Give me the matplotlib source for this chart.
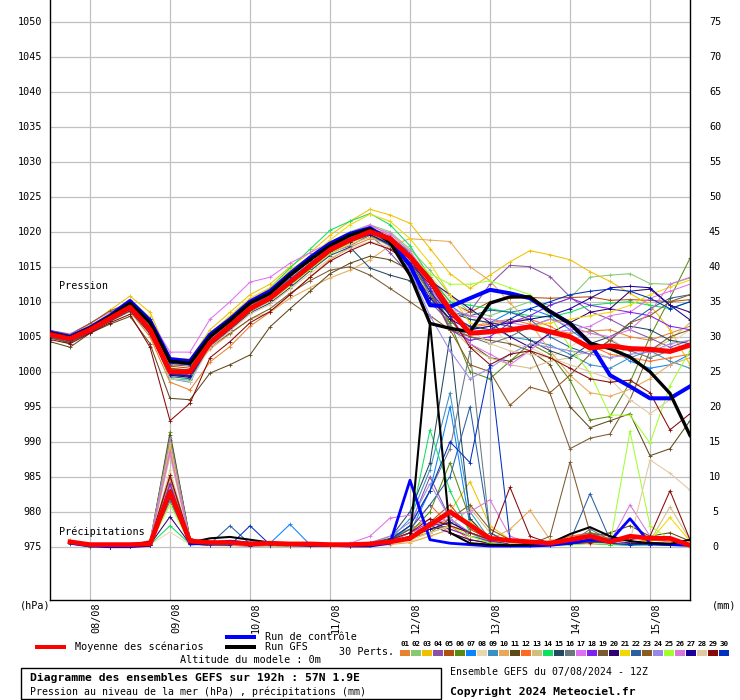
import matplotlib
matplotlib.use('Agg')
import matplotlib.pyplot as plt
from matplotlib.patches import Rectangle
from matplotlib.lines import Line2D

W, H = 740, 700
FONT = 'DejaVu Sans Mono'

# ---------------- data ----------------
hours_p = list(range(0, 193, 6))      # pressure: +0h .. +192h
hours_r = list(range(6, 193, 6))      # precipitation: +6h .. +192h
date_labels = ['08/08', '09/08', '10/08', '11/08', '12/08', '13/08', '14/08', '15/08']
date_hours = [12, 36, 60, 84, 108, 132, 156, 180]
left_ticks = list(range(975, 1051, 5))
right_ticks = list(range(0, 76, 5))

member_colors = ['#E8822E', '#88C870', '#F0C000', '#8A50A8', '#B05010', '#5A8A10',
                 '#0A84FF', '#E8D8B0', '#3A90C0', '#E8A858', '#5E4A18', '#FF6A20',
                 '#D0C080', '#10E060', '#244860', '#687880', '#E070F0', '#8020F0',
                 '#7A5A30', '#300070', '#F0D800', '#2A60A0', '#8A5A20', '#9A88E8',
                 '#A0FF30', '#D878D8', '#1A0098', '#E0C8A0', '#880808', '#0030C0']

mean_p = [1005.3, 1004.7, 1006.0, 1007.6, 1009.2, 1006.0, 1000.0, 1000.0, 1004.1, 1006.5, 1009.0,
          1010.5, 1012.8, 1015.1, 1017.4, 1018.8, 1020.0, 1019.0, 1016.4, 1013.1, 1008.8, 1005.5,
          1005.7, 1006.0, 1006.4, 1005.7, 1005.0, 1003.4, 1003.7, 1003.3, 1003.2, 1002.9, 1003.8]
ctrl_p = [1005.6, 1005.0, 1006.3, 1008.0, 1010.1, 1007.3, 1001.8, 1001.5, 1005.3, 1007.5, 1010.0,
          1011.5, 1014.0, 1016.3, 1018.3, 1019.7, 1020.5, 1018.8, 1015.2, 1009.5, 1009.3, 1010.5,
          1011.7, 1011.2, 1010.5, 1008.6, 1006.9, 1004.1, 999.5, 997.9, 996.2, 996.2, 997.9]
gfs_p = [1005.5, 1004.9, 1006.2, 1007.9, 1009.8, 1007.0, 1001.5, 1001.2, 1005.0, 1007.3, 1009.8,
         1011.2, 1013.8, 1016.0, 1018.0, 1019.5, 1020.4, 1018.5, 1013.8, 1006.9, 1006.2, 1005.7,
         1009.8, 1010.7, 1010.7, 1008.6, 1006.9, 1004.1, 1003.3, 1002.1, 1000.0, 996.9, 990.9]

p01 = [1005.0, 1004.2, 1005.8, 1007.2, 1008.6, 1005.0, 998.5, 997.4, 1001.4, 1003.6, 1006.5,
       1008.5, 1011.0, 1013.5, 1016.0, 1017.8, 1019.0, 1018.5, 1016.5, 1012.0, 1008.0, 1006.5,
       1007.0, 1007.5, 1006.8, 1006.0, 1005.5, 1005.8, 1006.0, 1005.0, 1004.5, 1005.5, 1006.5]
p02 = [1005.4, 1004.8, 1006.2, 1007.8, 1009.5, 1006.5, 1000.5, 1000.0, 1004.5, 1007.0, 1009.8,
       1011.5, 1014.0, 1016.5, 1018.5, 1020.0, 1021.0, 1020.0, 1017.5, 1014.5, 1011.0, 1008.5,
       1008.0, 1009.0, 1010.0, 1009.5, 1010.5, 1013.5, 1013.8, 1014.0, 1012.6, 1012.5, 1013.4]
p03 = [1005.8, 1005.2, 1006.8, 1008.8, 1010.8, 1008.5, 1002.0, 1001.8, 1006.0, 1008.5, 1011.0,
       1012.5, 1015.0, 1017.0, 1019.5, 1021.5, 1023.2, 1022.4, 1021.2, 1017.6, 1014.0, 1011.9,
       1013.8, 1015.7, 1017.3, 1016.7, 1016.0, 1014.3, 1012.9, 1011.2, 1009.5, 1006.0, 1001.0]
p04 = [1005.1, 1004.5, 1005.9, 1007.4, 1009.0, 1005.5, 999.5, 999.3, 1003.8, 1006.2, 1008.8,
       1010.5, 1012.5, 1014.8, 1017.0, 1018.0, 1019.5, 1017.0, 1013.8, 1010.0, 1007.0, 1008.6,
       1012.5, 1015.2, 1015.0, 1013.6, 1010.7, 1008.6, 1007.5, 1006.0, 1004.8, 1003.5, 1004.5]
p05 = [1005.6, 1005.0, 1006.4, 1008.0, 1009.6, 1006.8, 1000.8, 1000.5, 1004.8, 1007.0, 1009.5,
       1011.0, 1013.5, 1015.8, 1018.0, 1019.5, 1020.5, 1019.5, 1017.0, 1013.5, 1010.0, 1008.5,
       1010.0, 1010.5, 1010.6, 1010.5, 1010.6, 1010.7, 1010.2, 1010.3, 1010.2, 1010.0, 1010.3]
p06 = [1005.2, 1004.6, 1006.0, 1007.5, 1009.0, 1005.8, 999.8, 999.6, 1003.9, 1006.3, 1008.9,
       1010.3, 1012.5, 1014.9, 1017.2, 1018.5, 1019.5, 1018.0, 1015.0, 1011.5, 1007.0, 1000.0,
       999.0, 1001.5, 1004.0, 1002.5, 998.8, 993.1, 993.6, 998.5, 1005.0, 1010.5, 1016.2]
p07 = [1005.3, 1004.7, 1006.1, 1007.7, 1009.4, 1006.2, 999.0, 998.5, 1003.8, 1006.8, 1009.3,
       1011.0, 1013.3, 1015.5, 1017.8, 1019.2, 1020.3, 1019.3, 1017.0, 1013.0, 1009.5, 1007.5,
       1007.0, 1008.5, 1009.0, 1008.0, 1006.0, 1004.0, 1003.5, 1001.5, 1000.5, 1001.0, 1002.5]
p08 = [1005.7, 1005.1, 1006.5, 1008.1, 1009.7, 1006.9, 1000.6, 1000.2, 1004.4, 1006.6, 1009.1,
       1010.6, 1012.9, 1015.3, 1017.6, 1019.0, 1020.2, 1019.5, 1017.3, 1013.8, 1010.5, 1008.0,
       1006.5, 1004.0, 1003.5, 1002.0, 1003.5, 1005.5, 1004.8, 1003.0, 1002.0, 1004.0, 1006.0]
p09 = [1005.0, 1004.4, 1005.7, 1007.3, 1008.9, 1005.6, 999.6, 999.2, 1003.5, 1006.0, 1008.6,
       1010.2, 1012.6, 1015.0, 1017.3, 1018.7, 1019.8, 1018.3, 1015.8, 1012.0, 1008.5, 1006.0,
       1006.5, 1005.0, 1004.5, 1003.8, 1002.5, 1001.0, 1000.5, 1002.0, 1003.0, 1001.5, 1000.5]
p10 = [1005.5, 1004.9, 1006.3, 1007.9, 1009.5, 1006.4, 1000.3, 999.9, 1003.2, 1005.4, 1007.5,
       1008.5, 1010.5, 1012.0, 1013.4, 1014.5, 1016.0, 1018.0, 1019.0, 1018.8, 1018.6, 1015.0,
       1013.0, 1009.8, 1007.0, 1003.0, 999.5, 997.0, 996.5, 997.5, 999.0, 1001.0, 1002.0]
p11 = [1004.3, 1003.5, 1005.5, 1006.8, 1007.9, 1004.0, 996.2, 996.0, 999.8, 1001.0, 1002.4,
       1006.4, 1009.0, 1011.5, 1014.0, 1015.5, 1016.5, 1016.0, 1014.5, 1011.0, 1007.5, 1004.0,
       1002.0, 1001.5, 1003.0, 1001.0, 995.0, 992.0, 993.0, 994.0, 988.0, 989.0, 993.0]
p12 = [1005.4, 1004.8, 1006.1, 1007.6, 1009.1, 1006.0, 1000.2, 999.8, 1004.2, 1006.6, 1009.1,
       1010.7, 1013.0, 1015.3, 1017.6, 1019.0, 1020.1, 1019.2, 1016.5, 1013.0, 1008.0, 1006.3,
       1006.8, 1007.2, 1007.5, 1006.5, 1005.0, 1003.8, 1002.5, 1002.0, 1001.5, 1002.0, 1002.5]
p13 = [1005.6, 1005.0, 1006.4, 1007.8, 1009.3, 1006.3, 1000.4, 1000.3, 1004.0, 1006.4, 1008.7,
       1010.2, 1012.4, 1014.6, 1016.8, 1018.2, 1019.2, 1018.0, 1015.0, 1011.0, 1006.5, 1003.5,
       1002.0, 1001.0, 1000.5, 1001.5, 1002.0, 1003.0, 1002.0, 1003.5, 1003.0, 1004.5, 1007.0]
p14 = [1005.2, 1004.6, 1006.0, 1007.7, 1009.3, 1005.9, 999.0, 998.8, 1004.5, 1007.3, 1010.0,
       1012.0, 1014.8, 1017.5, 1020.2, 1021.5, 1022.6, 1021.0, 1018.0, 1013.5, 1010.0, 1009.5,
       1009.0, 1008.5, 1008.0, 1007.8, 1008.5, 1009.5, 1009.8, 1010.0, 1009.5, 1009.0, 1010.0]
p15 = [1004.8, 1004.2, 1005.6, 1007.2, 1008.7, 1005.4, 999.7, 999.5, 1003.6, 1006.0, 1008.4,
       1009.8, 1012.0, 1014.4, 1016.6, 1017.8, 1014.8, 1013.8, 1013.0, 1010.5, 1008.5, 1007.5,
       1007.0, 1006.5, 1004.5, 1003.0, 1002.0, 1004.0, 1005.0, 1006.5, 1006.0, 1004.5, 1004.0]
p16 = [1005.3, 1004.7, 1006.0, 1007.5, 1009.0, 1006.1, 1000.1, 1000.0, 1004.0, 1006.4, 1008.9,
       1010.4, 1012.7, 1015.0, 1017.3, 1018.7, 1019.9, 1019.0, 1016.0, 1011.0, 1006.5, 1005.0,
       1004.0, 1005.0, 1006.5, 1007.5, 1007.0, 1006.0, 1004.5, 1003.0, 1002.0, 1003.0, 1004.0]
p17 = [1005.9, 1005.4, 1006.9, 1008.5, 1010.2, 1007.5, 1002.8, 1002.8, 1007.5, 1010.0, 1012.8,
       1013.5, 1015.5, 1017.0, 1018.5, 1019.8, 1021.0, 1019.5, 1016.0, 1012.0, 1008.0, 1004.0,
       1002.5, 1001.0, 1003.0, 1005.5, 1006.0, 1006.5, 1008.0, 1008.5, 1010.5, 1011.5, 1012.5]
p18 = [1005.4, 1004.8, 1006.2, 1007.8, 1009.4, 1006.3, 1000.1, 999.5, 1004.2, 1006.6, 1009.1,
       1010.6, 1012.9, 1015.2, 1017.5, 1018.9, 1020.1, 1018.8, 1016.0, 1012.0, 1006.0, 1004.5,
       1005.0, 1007.0, 1008.0, 1009.5, 1010.5, 1009.5, 1009.0, 1008.5, 1008.0, 1006.5, 1006.0]
p19 = [1005.0, 1004.0, 1006.5, 1008.2, 1009.5, 1006.6, 1000.5, 1000.2, 1003.5, 1005.5, 1007.5,
       1009.0, 1011.2, 1013.0, 1014.5, 1015.0, 1013.8, 1011.9, 1010.0, 1008.0, 1006.0, 1005.0,
       1004.5, 1004.0, 1003.0, 996.9, 989.0, 990.5, 991.1, 996.0, 1003.0, 1005.0, 1006.0]
p20 = [1005.2, 1004.6, 1006.0, 1007.5, 1009.0, 1005.8, 999.5, 999.2, 1003.7, 1006.2, 1008.8,
       1010.2, 1012.6, 1014.9, 1017.2, 1018.6, 1019.8, 1018.8, 1016.0, 1013.0, 1011.0, 1009.0,
       1007.0, 1005.0, 1003.5, 1005.5, 1007.0, 1008.5, 1009.0, 1011.5, 1011.8, 1009.5, 1008.5]
p21 = [1005.7, 1005.1, 1006.6, 1008.3, 1010.3, 1007.8, 1001.5, 1001.2, 1005.5, 1008.0, 1010.5,
       1012.0, 1014.5, 1016.5, 1018.8, 1021.0, 1022.5, 1021.5, 1019.0, 1015.5, 1011.0, 1007.0,
       1005.5, 1006.0, 1006.5, 1007.0, 1007.5, 1008.0, 1008.5, 1009.5, 1011.0, 1012.1, 1013.1]
p22 = [1005.0, 1004.4, 1005.8, 1007.4, 1009.0, 1005.7, 999.3, 999.0, 1003.6, 1006.1, 1008.7,
       1010.1, 1012.4, 1014.7, 1017.0, 1018.5, 1019.7, 1018.0, 1014.5, 1010.0, 1008.5, 1008.0,
       1008.8, 1008.5, 1007.5, 1005.0, 1003.5, 1002.5, 1004.5, 1007.0, 1009.0, 1010.5, 1011.0]
p23 = [1005.9, 1005.3, 1006.9, 1008.7, 1009.8, 1007.2, 1001.0, 1000.8, 1004.6, 1006.8, 1009.2,
       1010.8, 1013.0, 1015.5, 1017.5, 1019.0, 1020.0, 1018.5, 1015.5, 1011.5, 1006.0, 1001.0,
       1000.0, 995.2, 997.8, 997.0, 999.5, 1002.5, 1004.5, 1007.0, 1008.0, 1010.0, 1011.0]
p24 = [1005.5, 1004.9, 1006.3, 1008.0, 1009.7, 1006.6, 1000.2, 999.8, 1004.6, 1007.2, 1009.8,
       1011.3, 1013.6, 1015.9, 1018.2, 1019.6, 1020.7, 1019.0, 1014.5, 1008.0, 1003.0, 999.0,
       1000.5, 1002.5, 1004.0, 1003.5, 1003.0, 1002.5, 1002.0, 1002.5, 1002.8, 1004.0, 1004.5]
p25 = [1005.4, 1004.8, 1006.1, 1007.7, 1009.2, 1006.1, 1000.0, 999.7, 1004.0, 1006.3, 1008.7,
       1010.1, 1012.3, 1014.6, 1016.9, 1018.4, 1019.6, 1018.8, 1016.5, 1014.0, 1012.5, 1012.5,
       1013.0, 1012.0, 1011.0, 1008.0, 1003.5, 999.8, 993.8, 993.8, 989.8, 998.0, 1003.0]
p26 = [1005.6, 1005.0, 1006.5, 1008.1, 1009.9, 1007.0, 1001.2, 1000.9, 1005.0, 1007.6, 1010.3,
       1011.8, 1014.2, 1016.3, 1018.4, 1019.7, 1020.8, 1019.8, 1017.2, 1013.0, 1009.0, 1008.0,
       1007.5, 1007.0, 1006.5, 1007.5, 1006.5, 1005.5, 1005.0, 1006.0, 1008.5, 1012.5, 1013.5]
p27 = [1005.1, 1004.5, 1005.9, 1007.5, 1009.1, 1005.9, 999.6, 999.4, 1003.8, 1006.3, 1008.9,
       1010.3, 1012.6, 1014.9, 1017.2, 1018.6, 1019.6, 1018.2, 1015.0, 1010.5, 1007.5, 1006.0,
       1006.5, 1007.0, 1007.5, 1008.0, 1009.0, 1010.5, 1012.0, 1012.2, 1012.0, 1009.5, 1007.4]
p28 = [1005.8, 1005.2, 1006.6, 1008.2, 1009.8, 1006.8, 999.0, 998.6, 1003.5, 1005.8, 1008.2,
       1009.6, 1011.8, 1014.0, 1016.2, 1017.6, 1018.6, 1017.8, 1016.0, 1013.0, 1009.5, 1006.0,
       1004.0, 1003.0, 1002.5, 1002.0, 1001.0, 1000.0, 999.0, 996.0, 994.0, 996.0, 998.0]
p29 = [1004.6, 1004.0, 1005.5, 1007.0, 1008.2, 1003.5, 993.0, 995.5, 1002.0, 1004.3, 1007.0,
       1008.6, 1011.0, 1013.5, 1015.8, 1017.3, 1018.5, 1017.5, 1015.5, 1012.5, 1008.0, 1003.5,
       1001.0, 1002.5, 1003.0, 1002.0, 1000.5, 999.0, 998.5, 998.8, 997.0, 991.7, 994.0]
p30 = [1005.3, 1004.7, 1006.2, 1007.9, 1009.7, 1007.5, 1001.2, 1001.0, 1005.0, 1007.2, 1009.8,
       1011.2, 1013.6, 1015.9, 1018.2, 1019.6, 1020.5, 1019.2, 1016.3, 1011.5, 1008.0, 1006.5,
       1006.0, 1007.5, 1009.0, 1010.0, 1011.0, 1011.5, 1011.8, 1011.5, 1010.5, 1009.0, 1010.0]

mean_r = [0.7, 0.3, 0.3, 0.3, 0.4, 7.8, 0.8, 0.6, 0.6, 0.4, 0.5, 0.4, 0.4, 0.3, 0.3, 0.4,
          0.7, 1.2, 3.1, 5.0, 3.1, 1.2, 0.9, 0.7, 0.5, 1.0, 1.5, 0.7, 1.5, 1.2, 1.2, 0.2]
ctrl_r = [0.5, 0.1, 0.0, 0.0, 0.2, 8.0, 0.4, 0.5, 0.8, 0.5, 0.6, 0.3, 0.2, 0.2, 0.1, 0.1,
          0.5, 9.5, 1.0, 0.5, 0.3, 0.1, 0.1, 0.1, 0.2, 0.5, 1.0, 0.8, 4.0, 0.5, 0.3, 0.2]
gfs_r = [0.8, 0.3, 0.1, 0.1, 0.2, 7.5, 0.6, 1.2, 1.4, 1.0, 0.6, 0.3, 0.2, 0.3, 0.1, 0.2,
         0.9, 1.0, 32.0, 2.0, 0.5, 0.3, 0.2, 0.3, 0.5, 1.8, 2.8, 1.5, 0.8, 0.5, 0.4, 1.0]

r01 = [0.5, 0.1, 0.1, 0.3, 0.8, 9.0, 0.6, 0.3, 0.4, 0.2, 0.3, 0.2, 0.1, 0.2, 0.3, 0.5,
       1.5, 2.5, 4.0, 2.0, 1.0, 0.5, 0.3, 0.2, 0.4, 1.5, 2.0, 1.0, 0.5, 0.3, 0.5, 0.3]
r02 = [0.6, 0.0, 0.1, 0.2, 0.5, 8.5, 0.5, 0.2, 0.3, 0.5, 0.2, 0.1, 0.2, 0.1, 0.2, 0.3,
       0.8, 1.5, 3.0, 4.0, 2.0, 1.0, 0.4, 0.3, 0.2, 0.5, 1.0, 0.8, 0.4, 0.5, 0.3, 0.2]
r03 = [0.7, 0.1, 0.0, 0.1, 0.4, 14.5, 0.8, 0.4, 0.2, 0.3, 0.5, 0.2, 0.1, 0.1, 0.2, 0.2,
       0.5, 1.0, 2.5, 5.0, 9.3, 3.0, 1.0, 0.5, 0.3, 0.4, 0.6, 0.5, 0.3, 0.5, 0.8, 0.3]
r04 = [0.5, 0.1, 0.1, 0.2, 0.3, 9.5, 0.4, 0.3, 0.2, 0.4, 0.3, 0.1, 0.2, 0.1, 0.1, 0.4,
       1.0, 3.0, 10.0, 4.0, 1.5, 0.8, 0.5, 0.3, 0.2, 0.3, 0.6, 0.4, 0.2, 0.3, 0.4, 0.2]
r05 = [0.6, 0.0, 0.1, 0.1, 0.4, 8.0, 0.5, 0.2, 0.3, 0.2, 0.1, 0.2, 0.1, 0.2, 0.1, 0.2,
       0.5, 1.2, 3.5, 6.0, 2.5, 1.0, 0.3, 0.2, 0.5, 1.2, 2.0, 1.5, 0.8, 0.4, 0.3, 0.2]
r06 = [0.6, 0.1, 0.1, 0.2, 0.5, 16.4, 1.0, 0.4, 0.3, 0.2, 0.2, 0.1, 0.1, 0.2, 0.2, 0.3,
       0.8, 2.0, 5.0, 12.0, 4.0, 1.0, 0.5, 0.2, 0.3, 0.4, 0.5, 0.3, 0.4, 0.6, 0.5, 0.3]
r07 = [0.5, 0.1, 0.0, 0.1, 0.3, 7.5, 0.5, 0.4, 0.5, 0.3, 0.5, 3.2, 0.3, 0.2, 0.1, 0.3,
       0.8, 2.0, 8.0, 20.0, 3.0, 0.8, 0.4, 0.3, 0.2, 0.5, 1.0, 0.6, 0.3, 0.4, 0.3, 0.2]
r08 = [0.4, 0.1, 0.0, 0.1, 0.3, 2.1, 0.3, 0.2, 0.1, 0.2, 0.1, 0.1, 0.2, 0.1, 0.1, 0.2,
       0.4, 0.8, 1.5, 2.5, 1.5, 0.6, 0.4, 0.3, 0.2, 0.3, 0.5, 0.4, 0.3, 0.2, 0.3, 0.2]
r09 = [0.6, 0.1, 0.1, 0.2, 0.4, 8.0, 0.6, 0.5, 0.4, 0.3, 0.3, 0.2, 0.1, 0.2, 0.3, 0.4,
       1.0, 4.0, 11.0, 22.0, 5.0, 1.0, 0.5, 0.3, 0.2, 0.8, 2.0, 1.0, 0.5, 0.3, 0.4, 0.2]
r10 = [0.7, 0.2, 0.1, 0.3, 0.9, 9.5, 0.8, 0.4, 0.3, 0.2, 0.2, 0.1, 0.1, 0.1, 0.2, 0.2,
       0.3, 0.6, 1.5, 2.5, 1.5, 1.0, 2.5, 5.2, 1.0, 0.5, 0.4, 0.3, 0.5, 0.6, 0.4, 0.3]
r11 = [0.8, 0.2, 0.1, 0.2, 0.6, 16.0, 1.2, 0.5, 0.4, 0.3, 0.4, 0.2, 0.3, 0.2, 0.2, 0.4,
       0.9, 2.0, 3.0, 3.5, 2.0, 1.0, 0.5, 0.4, 0.5, 1.0, 1.5, 2.0, 3.0, 1.5, 2.0, 0.8]
r12 = [0.9, 0.2, 0.1, 0.2, 0.7, 8.8, 0.7, 0.3, 0.2, 0.3, 0.2, 0.2, 0.1, 0.2, 0.1, 0.3,
       0.8, 2.5, 6.0, 3.0, 1.0, 0.5, 0.4, 0.3, 0.8, 1.5, 1.8, 1.2, 0.6, 1.0, 0.8, 0.3]
r13 = [0.5, 0.1, 0.0, 0.1, 0.3, 13.0, 0.6, 0.3, 0.2, 0.2, 0.1, 0.1, 0.2, 0.1, 0.2, 0.2,
       0.5, 1.0, 2.0, 3.0, 5.5, 2.0, 0.6, 0.4, 0.3, 0.4, 0.6, 0.5, 0.4, 0.8, 5.7, 1.0]
r14 = [0.4, 0.0, 0.1, 0.1, 0.3, 3.0, 0.4, 0.2, 0.3, 0.2, 0.3, 0.2, 0.1, 0.1, 0.2, 0.3,
       0.7, 3.0, 16.7, 8.0, 2.0, 0.5, 0.3, 0.2, 0.2, 0.3, 0.5, 0.3, 0.2, 0.3, 0.2, 0.1]
r15 = [0.6, 0.1, 0.1, 0.2, 0.4, 7.0, 0.5, 0.3, 0.4, 0.5, 0.3, 0.2, 0.2, 0.3, 0.4, 0.5,
       1.2, 5.0, 12.0, 30.0, 4.0, 1.0, 0.5, 0.3, 0.3, 0.6, 1.5, 0.8, 0.4, 0.3, 0.3, 0.2]
r16 = [0.5, 0.1, 0.1, 0.2, 0.4, 6.5, 0.5, 0.4, 0.3, 0.3, 0.2, 0.2, 0.1, 0.2, 0.3, 0.4,
       1.0, 3.0, 8.0, 14.0, 28.0, 2.0, 0.5, 0.3, 0.2, 0.5, 2.5, 1.0, 0.4, 0.3, 0.3, 0.2]
r17 = [0.6, 0.1, 0.1, 0.3, 0.8, 13.8, 0.9, 0.5, 0.4, 0.3, 0.4, 0.3, 0.2, 0.3, 0.5, 1.5,
       4.1, 4.5, 3.0, 4.0, 2.0, 1.0, 0.5, 0.3, 0.3, 0.5, 0.8, 0.6, 0.4, 0.5, 0.4, 0.3]
r18 = [0.5, 0.1, 0.0, 0.2, 0.4, 9.0, 0.6, 0.3, 0.2, 0.2, 0.3, 0.1, 0.2, 0.1, 0.2, 0.3,
       0.8, 2.0, 3.5, 2.5, 1.5, 0.8, 0.4, 0.3, 0.2, 0.4, 0.6, 0.5, 0.3, 0.4, 0.3, 0.2]
r19 = [0.7, 0.1, 0.1, 0.2, 0.6, 15.2, 1.0, 0.4, 0.3, 0.2, 0.3, 0.2, 0.2, 0.2, 0.3, 0.4,
       0.8, 1.5, 2.5, 3.0, 2.0, 1.0, 0.5, 0.3, 1.5, 12.1, 2.0, 0.8, 0.5, 0.6, 0.4, 0.3]
r20 = [0.5, 0.1, 0.1, 0.1, 0.3, 4.3, 0.4, 0.2, 0.2, 0.1, 0.2, 0.1, 0.1, 0.2, 0.1, 0.2,
       0.5, 1.5, 3.0, 2.0, 1.0, 0.5, 0.3, 0.2, 0.3, 0.5, 1.0, 0.8, 0.5, 0.4, 0.3, 0.2]
r21 = [0.8, 0.1, 0.1, 0.2, 0.7, 14.8, 0.8, 0.4, 0.3, 0.3, 0.2, 0.2, 0.1, 0.2, 0.2, 0.3,
       0.6, 1.5, 3.0, 5.0, 3.5, 1.5, 0.6, 0.4, 0.3, 0.5, 0.8, 0.6, 0.5, 0.8, 4.2, 0.8]
r22 = [0.5, 0.1, 0.0, 0.2, 0.4, 7.0, 0.5, 0.4, 3.0, 0.4, 0.3, 0.2, 0.2, 0.2, 0.3, 0.4,
       1.0, 2.5, 6.0, 10.0, 20.0, 2.0, 0.5, 0.3, 0.3, 0.8, 7.6, 1.0, 0.4, 0.3, 0.3, 0.2]
r23 = [0.6, 0.1, 0.1, 0.2, 0.5, 10.0, 0.7, 0.3, 0.2, 0.3, 0.2, 0.1, 0.2, 0.1, 0.2, 0.3,
       0.7, 1.2, 2.0, 4.0, 6.0, 2.5, 1.0, 0.5, 0.4, 0.6, 1.0, 0.8, 0.5, 0.4, 0.5, 0.3]
r24 = [0.6, 0.1, 0.1, 0.2, 0.5, 15.5, 0.9, 0.5, 0.4, 0.3, 0.3, 0.2, 0.2, 0.3, 0.4, 0.6,
       1.5, 3.5, 9.0, 4.0, 2.0, 1.0, 0.5, 0.3, 0.4, 0.6, 0.8, 0.5, 0.4, 0.3, 0.4, 0.3]
r25 = [0.5, 0.1, 0.1, 0.1, 0.3, 6.0, 0.5, 0.3, 0.2, 0.2, 0.2, 0.1, 0.1, 0.2, 0.2, 0.3,
       0.6, 1.0, 2.0, 3.0, 1.5, 0.5, 0.3, 0.2, 0.2, 0.3, 0.5, 0.4, 16.5, 3.0, 1.0, 0.5]
r26 = [0.6, 0.1, 0.1, 0.2, 0.5, 13.5, 0.8, 0.4, 0.3, 0.3, 0.2, 0.2, 0.1, 0.2, 0.3, 0.4,
       0.8, 2.0, 3.0, 4.5, 5.0, 6.7, 1.5, 0.5, 0.4, 0.5, 0.8, 0.6, 6.0, 1.5, 0.5, 0.3]
r27 = [0.5, 0.1, 0.0, 0.1, 0.3, 7.5, 0.5, 0.3, 0.2, 0.2, 0.3, 0.1, 0.2, 0.1, 0.2, 0.3,
       0.6, 1.5, 2.5, 3.5, 2.0, 1.0, 0.4, 0.3, 0.3, 0.5, 1.0, 0.8, 0.5, 0.4, 0.3, 0.2]
r28 = [0.6, 0.1, 0.1, 0.2, 0.4, 11.0, 0.7, 0.3, 0.2, 0.2, 0.2, 0.1, 0.1, 0.2, 0.2, 0.3,
       0.5, 1.0, 2.0, 3.0, 2.0, 1.0, 0.5, 0.3, 0.3, 0.4, 0.6, 0.5, 0.8, 12.4, 10.5, 8.1]
r29 = [0.7, 0.2, 0.1, 0.3, 0.8, 10.2, 1.0, 0.5, 0.4, 0.3, 0.3, 0.2, 0.2, 0.3, 0.3, 0.5,
       1.0, 2.0, 4.0, 3.0, 2.0, 1.0, 8.5, 1.5, 0.5, 0.4, 0.6, 0.8, 1.0, 1.5, 8.0, 1.0]
r30 = [0.5, 0.1, 0.0, 0.1, 0.3, 8.0, 0.5, 0.3, 0.2, 3.0, 0.3, 0.2, 0.2, 0.2, 0.3, 0.4,
       1.0, 3.0, 8.0, 15.0, 12.0, 26.0, 1.0, 0.3, 0.2, 0.4, 0.8, 0.5, 0.3, 0.3, 0.2, 0.2]

members_p = [p01, p02, p03, p04, p05, p06, p07, p08, p09, p10, p11, p12, p13, p14, p15,
             p16, p17, p18, p19, p20, p21, p22, p23, p24, p25, p26, p27, p28, p29, p30]
members_r = [r01, r02, r03, r04, r05, r06, r07, r08, r09, r10, r11, r12, r13, r14, r15,
             r16, r17, r18, r19, r20, r21, r22, r23, r24, r25, r26, r27, r28, r29, r30]

RAIN_BASE = 975.0   # 0 mm sits on the 975 hPa line, 1 mm == 1 hPa

# ---------------- figure ----------------
fig = plt.figure(figsize=(W / 100, H / 100), dpi=100)
fig.patch.set_facecolor('white')
ax = fig.add_axes([50 / W, 100 / H, 640 / W, 600 / H])
ax.set_xlim(0, 192)
ax.set_ylim(967.39, 1053.1)

for v in left_ticks:
    ax.axhline(v, color='#C0C0C0', lw=0.9, zorder=0)
for h in date_hours:
    ax.axvline(h, color='#C0C0C0', lw=0.9, zorder=0)

ax.set_xticks([])
ax.set_yticks([])
ax.spines['top'].set_visible(False)
for s in ('left', 'right', 'bottom'):
    ax.spines[s].set_color('black')
    ax.spines[s].set_linewidth(1.0)

def rain_level(vals):
    return [RAIN_BASE + v for v in vals]

# members
for col, pv, rv in zip(member_colors, members_p, members_r):
    ax.plot(hours_p, pv, color=col, lw=0.75, marker='+', ms=2.5, mew=0.6, zorder=2)
    ax.plot(hours_r, rain_level(rv), color=col, lw=0.75, marker='+', ms=2.5, mew=0.6, zorder=2)

# control, GFS, mean
ax.plot(hours_p, ctrl_p, color='#0000FF', lw=2.9, zorder=3, solid_joinstyle='round')
ax.plot(hours_r, rain_level(ctrl_r), color='#0000FF', lw=2.0, zorder=3)
ax.plot(hours_p, gfs_p, color='black', lw=2.4, zorder=4, solid_joinstyle='round')
ax.plot(hours_r, rain_level(gfs_r), color='black', lw=1.5, zorder=4)
ax.plot(hours_p, mean_p, color='#FF0000', lw=3.6, zorder=5, solid_joinstyle='round')
ax.plot(hours_r, rain_level(mean_r), color='#FF0000', lw=3.4, zorder=5, solid_joinstyle='round')

# axis labels
yax = ax.get_yaxis_transform()
for v in left_ticks:
    ax.text(-8 / 640, v, str(v), transform=yax, ha='right', va='center',
            fontsize=7.3, family=FONT)
for v in right_ticks:
    ax.text(665 / 640, v + RAIN_BASE, str(v), transform=yax, ha='center', va='center',
            fontsize=7.3, family=FONT)
xax = ax.get_xaxis_transform()
for h, lab in zip(date_hours, date_labels):
    ax.text(h + 1.8, -2 / 600, lab, transform=xax, rotation=90, ha='center', va='top',
            fontsize=7.3, family=FONT)

def ftext(x, y, s, **kw):
    kw.setdefault('family', FONT)
    kw.setdefault('fontsize', 7.3)
    kw.setdefault('va', 'center')
    kw.setdefault('ha', 'left')
    fig.text(x / W, 1 - y / H, s, **kw)

def frect(x0, y0, x1, y1, **kw):
    fig.add_artist(Rectangle((x0 / W, 1 - y1 / H), (x1 - x0) / W, (y1 - y0) / H,
                             transform=fig.transFigure, **kw))

ftext(59, 286, 'Pression')
ftext(59, 532, 'Précipitations')
ftext(20, 606, '(hPa)')
ftext(712, 606, '(mm)')

# legend
frect(35, 645, 66, 649, facecolor='#FF0000', edgecolor='none')
ftext(75, 647, 'Moyenne des scénarios')
frect(225, 635, 256, 639, facecolor='#0000FF', edgecolor='none')
ftext(265, 637, 'Run de contrôle')
frect(225, 645, 256, 649, facecolor='black', edgecolor='none')
ftext(265, 647, 'Run GFS')
ftext(180, 660, 'Altitude du modele : 0m')
ftext(339, 652, '30 Perts.')
for k, col in enumerate(member_colors):
    x0 = 400 + 11 * k
    frect(x0, 650, x0 + 10, 656, facecolor=col, edgecolor='none')
    ftext(x0 + 5, 643.5, '%02d' % (k + 1), ha='center', fontsize=5.4, weight='bold')

# title box
frect(20.5, 667.5, 440.5, 699, facecolor='none', edgecolor='black', linewidth=1.0)
ftext(30, 677.5, 'Diagramme des ensembles GEFS sur 192h : 57N 1.9E', fontsize=8.2, weight='bold')
ftext(30, 692, 'Pression au niveau de la mer (hPa) , précipitations (mm)', fontsize=7.1)
ftext(450, 672, 'Ensemble GEFS du 07/08/2024 - 12Z', fontsize=7.1)
ftext(450, 692, 'Copyright 2024 Meteociel.fr', fontsize=8.2, weight='bold')

fig.savefig('out.png', dpi=100, facecolor='white')
